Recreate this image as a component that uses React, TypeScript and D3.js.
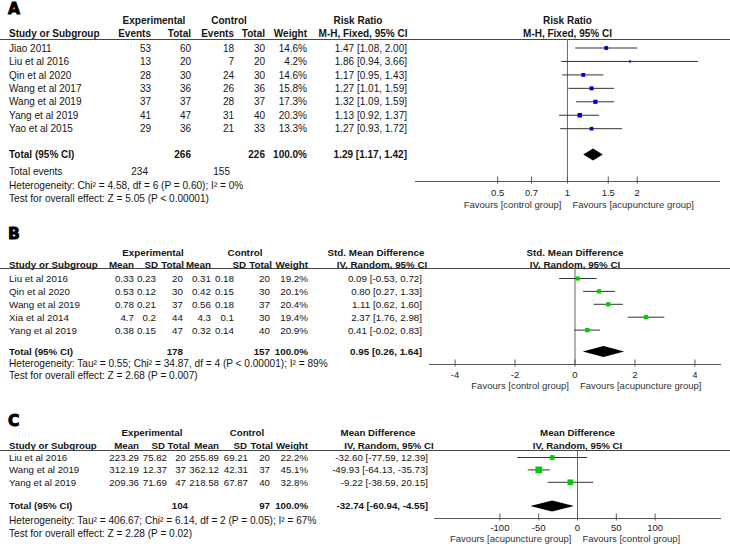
import React, { useEffect, useRef } from "react";
import * as d3 from "d3";

// ---- Panel A: Risk ratio (events)
const studiesA = ["Jiao 2011", "Liu et al 2016", "Qin et al 2020", "Wang et al 2017", "Wang et al 2019", "Yang et al 2019", "Yao et al 2015"];
const expEventsA = [53, 13, 28, 33, 37, 41, 29];
const expTotalA = [60, 20, 30, 36, 37, 47, 36];
const ctlEventsA = [18, 7, 24, 26, 28, 31, 21];
const ctlTotalA = [30, 20, 30, 36, 37, 40, 33];
const weightA = [14.6, 4.2, 14.6, 15.8, 17.3, 20.3, 13.3];
const rrA = [1.47, 1.86, 1.17, 1.27, 1.32, 1.13, 1.27];
const lowA = [1.08, 0.94, 0.95, 1.01, 1.09, 0.92, 0.93];
const highA = [2.0, 3.66, 1.43, 1.59, 1.59, 1.37, 1.72];
const totalA = { exp: 266, ctl: 226, est: 1.29, lo: 1.17, hi: 1.42, expEv: 234, ctlEv: 155 };
const ticksA = [0.5, 0.7, 1, 1.5, 2];
const hetA = "Heterogeneity: Chi² = 4.58, df = 6 (P = 0.60); I² = 0%";
const testA = "Test for overall effect: Z = 5.05 (P < 0.00001)";

// ---- Panel B: Std. mean difference
const studiesB = ["Liu et al 2016", "Qin et al 2020", "Wang et al 2019", "Xia et al 2014", "Yang et al 2019"];
const expMeanB = [0.33, 0.53, 0.78, 4.7, 0.38];
const expSdB = [0.23, 0.12, 0.21, 0.2, 0.15];
const expTotalB = [20, 30, 37, 44, 47];
const ctlMeanB = [0.31, 0.42, 0.56, 4.3, 0.32];
const ctlSdB = [0.18, 0.15, 0.18, 0.1, 0.14];
const ctlTotalB = [20, 30, 37, 30, 40];
const weightB = [19.2, 20.1, 20.4, 19.4, 20.9];
const smdB = [0.09, 0.8, 1.11, 2.37, 0.41];
const lowB = [-0.53, 0.27, 0.62, 1.76, -0.02];
const highB = [0.72, 1.33, 1.6, 2.98, 0.83];
const totalB = { exp: 178, ctl: 157, est: 0.95, lo: 0.26, hi: 1.64 };
const ticksB = [-4, -2, 0, 2, 4];
const hetB = "Heterogeneity: Tau² = 0.55; Chi² = 34.87, df = 4 (P < 0.00001); I² = 89%";
const testB = "Test for overall effect: Z = 2.68 (P = 0.007)";

// ---- Panel C: Mean difference
const studiesC = ["Liu et al 2016", "Wang et al 2019", "Yang et al 2019"];
const expMeanC = [223.29, 312.19, 209.36];
const expSdC = [75.82, 12.37, 71.69];
const expTotalC = [20, 37, 47];
const ctlMeanC = [255.89, 362.12, 218.58];
const ctlSdC = [69.21, 42.31, 67.87];
const ctlTotalC = [20, 37, 40];
const weightC = [22.2, 45.1, 32.8];
const mdC = [-32.6, -49.93, -9.22];
const lowC = [-77.59, -64.13, -38.59];
const highC = [12.39, -35.73, 20.15];
const totalC = { exp: 104, ctl: 97, est: -32.74, lo: -60.94, hi: -4.55 };
const ticksC = [-100, -50, 0, 50, 100];
const hetC = "Heterogeneity: Tau² = 406.67; Chi² = 6.14, df = 2 (P = 0.05); I² = 67%";
const testC = "Test for overall effect: Z = 2.28 (P = 0.02)";

const W = 730;
const H = 544;
const FONT = "'Liberation Sans', Arial, sans-serif";

const ci = (e, l, h) => `${e.toFixed(2)} [${l.toFixed(2)}, ${h.toFixed(2)}]`;
const pct = (w) => `${w.toFixed(1)}%`;

function txt(g, x, y, s, o: any = {}) {
  const size = o.size || 10;
  return g
    .append("text")
    .attr("x", x)
    .attr("y", y + size * 0.36)
    .attr("text-anchor", o.anchor || "start")
    .attr("font-weight", o.bold ? "bold" : "normal")
    .attr("font-size", size)
    .attr("fill", o.color || "#151515")
    .text(s);
}

function drawPanel(svg, p) {
  const g = svg.append("g").attr("font-family", FONT);
  const fs = p.fs;

  // panel letter
  txt(g, 8, p.labelY, p.label, { size: 15.5, bold: true, color: "#000" })
    .attr("font-family", "'DejaVu Sans', sans-serif")
    .attr("stroke", "#000")
    .attr("stroke-width", 0.9);

  // header rows
  p.groups.forEach((h) => txt(g, h.x, p.head1Y, h.text, { anchor: "middle", bold: true, size: fs }));
  txt(g, 9, p.head2Y, "Study or Subgroup", { bold: true, size: fs });
  p.cols.forEach((c) => txt(g, c.hx ?? c.x, p.head2Y, c.head, { anchor: "end", bold: true, size: fs }));
  txt(g, p.ciHead1X, p.head1Y, p.measure, { anchor: "middle", bold: true, size: fs });
  txt(g, p.ciHead2X, p.head2Y, p.method, { anchor: "middle", bold: true, size: fs });

  const [r0, r1] = p.x.range();
  const mid = (r0 + r1) / 2;
  txt(g, mid, p.head1Y, p.measure, { anchor: "middle", bold: true, size: fs });
  txt(g, mid, p.head2Y, p.method, { anchor: "middle", bold: true, size: fs });

  g.append("line")
    .attr("x1", 0)
    .attr("x2", W)
    .attr("y1", p.ruleY)
    .attr("y2", p.ruleY)
    .attr("stroke", "#444")
    .attr("stroke-width", 1);

  // null line
  const x0 = p.x(p.nullVal);
  g.append("line")
    .attr("x1", x0)
    .attr("x2", x0)
    .attr("y1", p.ruleY)
    .attr("y2", p.axisY)
    .attr("stroke", "#666");

  const rowY = (i) => p.rowY0 + i * p.rowStep;

  p.studies.forEach((s, i) => {
    const y = rowY(i);
    txt(g, 9, y, s, { size: fs });
    p.cols.forEach((c) => txt(g, c.x, y, c.vals[i], { anchor: "end", size: fs }));
    txt(g, p.ciX, y, ci(p.est[i], p.lo[i], p.hi[i]), { anchor: "end", size: fs });

    // CI line + weighted square
    g.append("line")
      .attr("x1", p.x(p.lo[i]))
      .attr("x2", p.x(p.hi[i]))
      .attr("y1", y)
      .attr("y2", y)
      .attr("stroke", "#333");
    const side = p.sqK * Math.sqrt(p.weight[i]);
    g.append("rect")
      .attr("x", p.x(p.est[i]) - side / 2)
      .attr("y", y - side / 2)
      .attr("width", side)
      .attr("height", side)
      .attr("fill", p.sqColor);
  });

  // total row
  txt(g, 9, p.totalY, "Total (95% CI)", { bold: true, size: fs });
  p.cols.forEach((c) => {
    if (c.total) txt(g, c.tx ?? c.x, p.totalY, c.total, { anchor: "end", bold: true, size: fs });
  });
  txt(g, p.ciX, p.totalY, ci(p.tot.est, p.tot.lo, p.tot.hi), { anchor: "end", bold: true, size: fs });

  const dh = p.diamondH;
  const pts = [
    [p.x(p.tot.lo), p.totalY],
    [p.x(p.tot.est), p.totalY - dh],
    [p.x(p.tot.hi), p.totalY],
    [p.x(p.tot.est), p.totalY + dh],
  ];
  g.append("path").attr("d", d3.line()(pts) + "Z").attr("fill", "#000");

  // rows under the total
  p.extra.forEach((e) => {
    txt(g, 9, e.y, e.text, { size: e.vals ? fs : 10.1 });
    (e.vals || []).forEach((v) => txt(g, v.x, e.y, v.text, { anchor: "end", size: fs }));
  });

  // axis
  g.append("line")
    .attr("x1", r0)
    .attr("x2", r1)
    .attr("y1", p.axisY)
    .attr("y2", p.axisY)
    .attr("stroke", "#555");
  p.ticks.forEach((t) => {
    const tx = p.x(t);
    g.append("line")
      .attr("x1", tx)
      .attr("x2", tx)
      .attr("y1", p.axisY - 5)
      .attr("y2", p.axisY + 2)
      .attr("stroke", "#555");
    txt(g, tx, p.tickY, String(t), { anchor: "middle", size: 9.5, color: "#222" });
  });
  txt(g, x0 - 6, p.favY, p.favLeft, { anchor: "end", size: 9.5, color: "#333" });
  txt(g, x0 + 5, p.favY, p.favRight, { anchor: "start", size: 9.5, color: "#333" });
}

const App = () => {
  const svgRef = useRef(null);

  useEffect(() => {
    const svg = d3.select(svgRef.current);
    svg.selectAll("*").remove();

    const fmt = (a) => a.map((v) => String(v));

    drawPanel(svg, {
      label: "A",
      fs: 10,
      labelY: 8.5,
      head1Y: 20.5,
      head2Y: 33.5,
      ruleY: 39.5,
      rowY0: 48,
      rowStep: 13.45,
      totalY: 154.5,
      groups: [
        { text: "Experimental", x: 154 },
        { text: "Control", x: 229 },
      ],
      cols: [
        { head: "Events", x: 151, vals: fmt(expEventsA) },
        { head: "Total", x: 191, vals: fmt(expTotalA), total: String(totalA.exp) },
        { head: "Events", x: 234, vals: fmt(ctlEventsA) },
        { head: "Total", x: 265, vals: fmt(ctlTotalA), total: String(totalA.ctl) },
        { head: "Weight", x: 307, vals: weightA.map(pct), total: "100.0%" },
      ],
      measure: "Risk Ratio",
      method: "M-H, Fixed, 95% CI",
      ciHead1X: 358,
      ciHead2X: 363,
      ciX: 407,
      studies: studiesA,
      est: rrA,
      lo: lowA,
      hi: highA,
      weight: weightA,
      tot: totalA,
      x: d3.scaleLog().domain([0.22, 4.55]).range([415, 720]),
      nullVal: 1,
      sqK: 1.0,
      sqColor: "#0000cc",
      diamondH: 6,
      extra: [
        {
          y: 171,
          text: "Total events",
          vals: [
            { x: 148, text: String(totalA.expEv) },
            { x: 230, text: String(totalA.ctlEv) },
          ],
        },
        { y: 185, text: hetA },
        { y: 198.5, text: testA },
      ],
      ticks: ticksA,
      axisY: 181.5,
      tickY: 193,
      favY: 205,
      favLeft: "Favours [control group]",
      favRight: "Favours [acupuncture group]",
    });

    drawPanel(svg, {
      label: "B",
      fs: 9.8,
      labelY: 233,
      head1Y: 252,
      head2Y: 264.5,
      ruleY: 268.5,
      rowY0: 278.5,
      rowStep: 12.9,
      totalY: 351.5,
      groups: [
        { text: "Experimental", x: 153 },
        { text: "Control", x: 245 },
      ],
      cols: [
        { head: "Mean", x: 134, vals: fmt(expMeanB) },
        { head: "SD", x: 156, hx: 158, vals: fmt(expSdB) },
        { head: "Total", x: 183, hx: 184, vals: fmt(expTotalB), total: String(totalB.exp) },
        { head: "Mean", x: 211, vals: fmt(ctlMeanB) },
        { head: "SD", x: 234, hx: 246, vals: fmt(ctlSdB) },
        { head: "Total", x: 270, hx: 272, vals: fmt(ctlTotalB), total: String(totalB.ctl) },
        { head: "Weight", x: 308, vals: weightB.map(pct), total: "100.0%" },
      ],
      measure: "Std. Mean Difference",
      method: "IV, Random, 95% CI",
      ciHead1X: 376,
      ciHead2X: 382,
      ciX: 422,
      studies: studiesB,
      est: smdB,
      lo: lowB,
      hi: highB,
      weight: weightB,
      tot: totalB,
      x: d3.scaleLinear().domain([-4.87, 4.87]).range([429, 721]),
      nullVal: 0,
      sqK: 0.95,
      sqColor: "#00cc00",
      diamondH: 5.5,
      extra: [
        { y: 363.5, text: hetB },
        { y: 375.5, text: testB },
      ],
      ticks: ticksB,
      axisY: 364.5,
      tickY: 374.5,
      favY: 385.5,
      favLeft: "Favours [control group]",
      favRight: "Favours [acupuncture group]",
    });

    drawPanel(svg, {
      label: "C",
      fs: 9.7,
      labelY: 420,
      head1Y: 432.5,
      head2Y: 445.5,
      ruleY: 450.5,
      rowY0: 457.5,
      rowStep: 12.4,
      totalY: 506,
      groups: [
        { text: "Experimental", x: 152 },
        { text: "Control", x: 247 },
      ],
      cols: [
        { head: "Mean", x: 139, vals: fmt(expMeanC) },
        { head: "SD", x: 167, hx: 165, vals: fmt(expSdC) },
        { head: "Total", x: 186, hx: 190, tx: 188, vals: fmt(expTotalC), total: String(totalC.exp) },
        { head: "Mean", x: 219, vals: fmt(ctlMeanC) },
        { head: "SD", x: 248, hx: 247, vals: fmt(ctlSdC) },
        { head: "Total", x: 270, hx: 273, vals: fmt(ctlTotalC), total: String(totalC.ctl) },
        { head: "Weight", x: 308, vals: weightC.map(pct), total: "100.0%" },
      ],
      measure: "Mean Difference",
      method: "IV, Random, 95% CI",
      ciHead1X: 378,
      ciHead2X: 389,
      ciX: 428,
      studies: studiesC,
      est: mdC,
      lo: lowC,
      hi: highC,
      weight: weightC,
      tot: totalC,
      x: d3.scaleLinear().domain([-185, 185]).range([434, 721]),
      nullVal: 0,
      sqK: 1.0,
      sqColor: "#00cc00",
      diamondH: 5.5,
      extra: [
        { y: 520, text: hetC },
        { y: 533, text: testC },
      ],
      ticks: ticksC,
      axisY: 518.5,
      tickY: 527.5,
      favY: 539,
      favLeft: "Favours [acupuncture group]",
      favRight: "Favours [control group]",
    });
  }, []);

  return (
    <div style={{ position: "absolute", left: 0, top: 0, background: "#fff" }}>
      <svg ref={svgRef} width={W} height={H} style={{ display: "block" }}></svg>
    </div>
  );
};

export default App;
